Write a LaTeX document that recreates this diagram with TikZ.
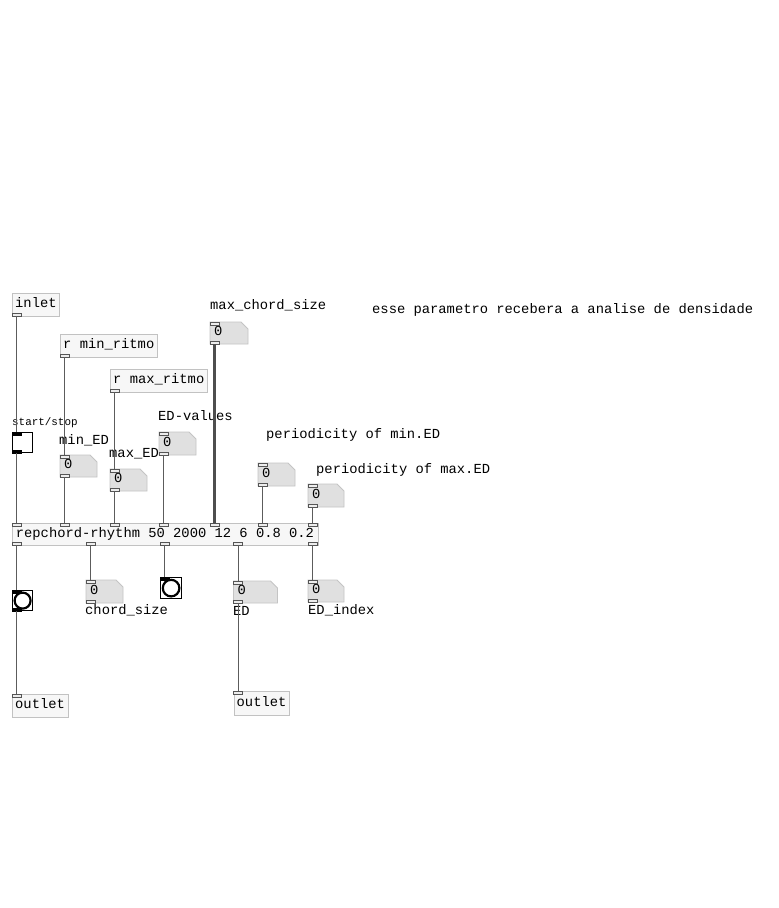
\documentclass[tikz,border=0pt]{standalone}
\usepackage{fontspec}
\newfontfamily\pdfont{Liberation Mono}
\newcommand\pdtext{\pdfont\fontsize{13.8pt}{16pt}\selectfont}
\newcommand\pdsmall{\pdfont\fontsize{10.9pt}{13pt}\selectfont}
\usetikzlibrary{calc}

\definecolor{boxline}{HTML}{C2C2C2}
\definecolor{boxfill}{HTML}{F7F7F7}
\definecolor{numline}{HTML}{C4C4C4}
\definecolor{numfill}{HTML}{E0E0E0}
\definecolor{wiregray}{HTML}{5C5C5C}
\definecolor{tabline}{HTML}{555555}
\definecolor{tabfill}{HTML}{EDEDED}

\tikzset{
  pdbox/.style={draw=boxline, fill=boxfill, anchor=north west, inner xsep=3pt, inner ysep=0pt,
    minimum height=23pt, font=\pdtext, text height=9pt, text depth=3pt},
  numbox/.style={draw=numline, fill=numfill, line width=0.8pt},
  numnode/.style={anchor=north west, inner sep=0pt},
  numval/.style={anchor=base west, inner sep=0pt, font=\pdtext},
  pdlabel/.style={anchor=west, inner sep=0pt, font=\pdtext, text height=7pt, text depth=0pt},
  pdtab/.style={draw=tabline, fill=tabfill, line width=0.7pt},
  blacktab/.style={draw=black, fill=black, line width=0.7pt},
  toggle/.style={draw=black, fill=white, line width=1.2pt, anchor=north west, inner sep=0pt, minimum size=20pt},
  wire/.style={draw=wiregray, line width=1pt},
  fatwire/.style={draw=wiregray!85!black, line width=2.3pt}
}

% inlet / outlet tabs with a named coordinate for the wire
\newcommand\pdin[4][pdtab]{%
  \draw[#1] ($(#2.north west)+(#3,0)$) rectangle ++(9,3);
  \coordinate (#4) at ($(#2.north west)+(#3+4.5,0)$);}
\newcommand\pdout[4][pdtab]{%
  \draw[#1] ($(#2.south west)+(#3,-3)$) rectangle ++(9,3);
  \coordinate (#4) at ($(#2.south west)+(#3+4.5,0)$);}
% number box: name, x, y, width, height
\newcommand\pdnum[5]{%
  \filldraw[numbox] (#2,#3) -- ++(#4-7,0) -- ++(7,7) -- ++(0,#5-7) -- ++(-#4,0) -- cycle;
  \node[numnode, minimum width=#4pt, minimum height=#5pt] (#1) at (#2,#3) {};
  \node[numval] (#1-v) at (#2+4,#3+#5/2+2.5) {0};
  \pdin{#1}{0}{#1-i}
  \pdout{#1}{0}{#1-o}}

\begin{document}
\begin{tikzpicture}[x=1pt, y=-1pt, >=stealth]
    \fill[white] (0,0) rectangle (779,908);
    \useasboundingbox (0,0) rectangle (779,908);

    % Inlet and receivers
    \node[pdbox] (inlet) at (12,293) {inlet};
    \node[pdbox] (rmin) at (60,334) {r min\_ritmo};
    \node[pdbox] (rmax) at (110,369) {r max\_ritmo};
    \pdout{inlet}{0}{inlet-o}
    \pdout{rmin}{0}{rmin-o}
    \pdout{rmax}{0}{rmax-o}

    % Comments
    \node[pdlabel] (lmaxchord) at (210,306) {max\_chord\_size};
    \node[pdlabel] (lnote) at (372,310) {esse parametro recebera a analise de densidade};
    \node[pdlabel, font=\pdsmall] (lstart) at (12,422) {start/stop};
    \node[pdlabel] (lminED) at (59,441) {min\_ED};
    \node[pdlabel] (lmaxED) at (109,454) {max\_ED};
    \node[pdlabel] (lEDval) at (158,417) {ED-values};
    \node[pdlabel] (lpermin) at (266,435) {periodicity of min.ED};
    \node[pdlabel] (lpermax) at (316,470) {periodicity of max.ED};
    \node[pdlabel] (lchord) at (85,611) {chord\_size};
    \node[pdlabel] (lED) at (233,612) {ED};
    \node[pdlabel] (lEDidx) at (308,611) {ED\_index};

    % Number boxes
    \pdnum{nmaxchord}{210}{322}{38}{22}
    \pdnum{nminED}{60}{455}{37}{22}
    \pdnum{nmaxED}{110}{469}{37}{22}
    \pdnum{nEDval}{159}{432}{37}{23}
    \pdnum{npermin}{258}{463}{37}{23}
    \pdnum{npermax}{308}{484}{36}{23}
    \pdnum{nchord}{86}{580}{37}{23}
    \pdnum{nED}{233.5}{581}{44}{22}
    \pdnum{nEDidx}{308}{580}{36}{22}

    % Toggle
    \node[toggle] (tgl) at (12,432) {};
    \pdin[blacktab]{tgl}{0}{tgl-i}
    \pdout[blacktab]{tgl}{0}{tgl-o}

    % Main object
    \node[pdbox, minimum width=305.5pt, minimum height=22pt] (rep) at (12,523) {repchord-rhythm 50 2000 12 6 0.8 0.2};
    \foreach \dx [count=\i from 0] in {0,48,98,147,198,246,296} {
      \pdin{rep}{\dx}{rep-i\i}
    }
    \foreach \dx [count=\i from 0] in {0,74,148,221.5,296} {
      \pdout{rep}{\dx}{rep-o\i}
    }

    % Bangs
    \node[toggle] (bng1) at (12,590) {};
    \node[toggle, minimum size=21pt] (bng2) at (160,577) {};
    \draw[line width=2.2pt] (bng1.center) circle (8pt);
    \draw[line width=2.2pt] (bng2.center) circle (8.3pt);
    \pdin[blacktab]{bng1}{0}{bng1-i}
    \pdout[blacktab]{bng1}{0}{bng1-o}
    \pdin[blacktab]{bng2}{0}{bng2-i}

    % Outlets
    \node[pdbox] (out1) at (12,694) {outlet};
    \node[pdbox, minimum height=24pt] (out2) at (233.5,691) {outlet};
    \pdin{out1}{0}{out1-i}
    \pdin{out2}{0}{out2-i}

    % Wires into repchord-rhythm
    \draw[wire] (inlet-o) -- (tgl-i);
    \draw[wire] (tgl-o) -- (rep-i0);
    \draw[wire] (rmin-o) -- (nminED-i);
    \draw[wire] (nminED-o) -- (rep-i1);
    \draw[wire] (rmax-o) -- (nmaxED-i);
    \draw[wire] (nmaxED-o) -- (rep-i2);
    \draw[wire] (nEDval-o) -- (rep-i3);
    \draw[fatwire] (nmaxchord-o) -- (rep-i4);
    \draw[wire] (npermin-o) -- (rep-i5);
    \draw[wire] (npermax-o) -- (rep-i6);

    % Wires out of repchord-rhythm
    \draw[wire] (rep-o0) -- (bng1-i);
    \draw[wire] (bng1-o) -- (out1-i);
    \draw[wire] (rep-o1) -- (nchord-i);
    \draw[wire] (rep-o2) -- (bng2-i);
    \draw[wire] (rep-o3) -- (nED-i);
    \draw[wire] (nED-o) -- (out2-i);
    \draw[wire] (rep-o4) -- (nEDidx-i);

  \end{tikzpicture}
\end{document}
